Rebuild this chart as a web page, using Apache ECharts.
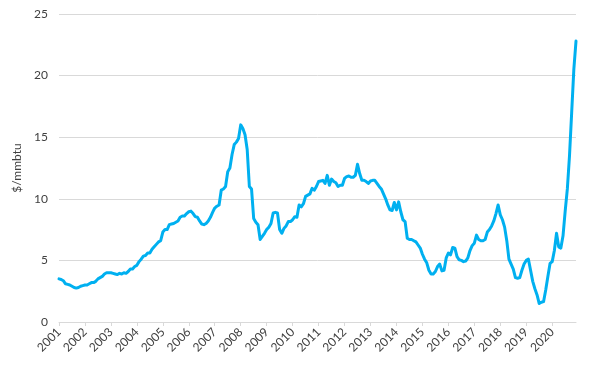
<!DOCTYPE html>
<html>
<head>
<meta charset="utf-8">
<script src="https://cdn.jsdelivr.net/npm/echarts@6/dist/echarts.min.js"></script>
<style>
html,body{margin:0;padding:0;background:#fff;}
#chart{width:602px;height:366px;}
</style>
</head>
<body>
<div id="chart"></div>
<script>
// Tick labels (years) and y-axis ticks
const years = [2001,2002,2003,2004,2005,2006,2007,2008,2009,2010,2011,2012,2013,2014,2015,2016,2017,2018,2019,2020];
const months = ['01','02','03','04','05','06','07','08','09','10','11','12'];
const yTicks = [0,5,10,15,20,25];

// Monthly prices, $/mmbtu
const p2001 = [3.5,3.45,3.35,3.1,3.05,3.0,2.9,2.8,2.75,2.8,2.9,2.95];
const p2002 = [3.0,3.0,3.1,3.2,3.2,3.3,3.5,3.6,3.7,3.9,4.0,4.0];
const p2003 = [4.0,3.95,3.9,3.85,3.95,3.9,4.0,3.95,4.1,4.3,4.3,4.5];
const p2004 = [4.6,4.9,5.1,5.35,5.4,5.6,5.6,5.9,6.1,6.3,6.5,6.6];
const p2005 = [7.3,7.5,7.5,7.9,7.95,8.0,8.1,8.2,8.5,8.6,8.6,8.8];
const p2006 = [8.95,9.0,8.8,8.55,8.5,8.2,7.95,7.9,8.0,8.2,8.5,8.9];
const p2007 = [9.25,9.4,9.5,10.7,10.8,11.0,12.2,12.5,13.6,14.4,14.6,14.9];
const p2008 = [16.0,15.7,15.2,14.0,11.0,10.8,8.4,8.1,7.9,6.7,6.95,7.2];
const p2009 = [7.5,7.7,8.0,8.85,8.9,8.85,7.5,7.2,7.6,7.8,8.15,8.15];
const p2010 = [8.3,8.55,8.5,9.5,9.35,9.6,10.2,10.3,10.4,10.85,10.7,11.0];
const p2011 = [11.4,11.45,11.5,11.25,11.9,11.1,11.6,11.4,11.3,11.0,11.1,11.1];
const p2012 = [11.65,11.8,11.85,11.75,11.75,11.9,12.8,12.05,11.5,11.5,11.4,11.25];
const p2013 = [11.45,11.5,11.5,11.25,11.0,10.8,10.4,10.0,9.5,9.1,9.05,9.7];
const p2014 = [9.1,9.75,8.95,8.3,8.15,6.8,6.7,6.7,6.6,6.5,6.25,6.0];
const p2015 = [5.5,5.1,4.8,4.2,3.9,3.9,4.1,4.5,4.7,4.15,4.2,5.2];
const p2016 = [5.6,5.45,6.05,6.0,5.3,5.05,5.0,4.9,4.95,5.2,5.8,6.2];
const p2017 = [6.4,7.05,6.7,6.6,6.6,6.7,7.3,7.5,7.8,8.2,8.8,9.5];
const p2018 = [8.7,8.3,7.7,6.6,5.1,4.7,4.3,3.6,3.55,3.6,4.2,4.7];
const p2019 = [5.0,5.1,4.2,3.3,2.7,2.2,1.5,1.6,1.65,2.6,3.7,4.75];
const p2020 = [4.9,5.8,7.2,6.1,6.0,7.0,9.0,10.8,13.5,17.0,20.5,22.8];

const yearly = [p2001,p2002,p2003,p2004,p2005,p2006,p2007,p2008,p2009,p2010,
                p2011,p2012,p2013,p2014,p2015,p2016,p2017,p2018,p2019,p2020];

const categories = [];
years.forEach(y => months.forEach(m => categories.push(y + '-' + m)));
const values = [].concat(...yearly);

const chart = echarts.init(document.getElementById('chart'));
const fontFamily = 'Lato, "Open Sans", sans-serif';
chart.setOption({
  animation: false,
  backgroundColor: '#ffffff',
  grid: {left: 59, right: 26, top: 14, bottom: 44, containLabel: false},
  xAxis: {
    type: 'category',
    data: categories,
    boundaryGap: false,
    axisLine: {lineStyle: {color: '#d9d9d9', width: 1}},
    axisTick: {show: true, length: 4, lineStyle: {color: '#d9d9d9'},
      interval: function (i) { return i % 12 === 0; }},
    axisLabel: {
      interval: function (i) { return i % 12 === 0; },
      rotate: 45,
      margin: 8,
      color: '#404040',
      fontSize: 12,
      fontFamily: fontFamily,
      formatter: function (v) { return v.slice(0, 4); }
    },
    splitLine: {show: false}
  },
  yAxis: {
    type: 'value',
    min: yTicks[0],
    max: yTicks[yTicks.length - 1],
    interval: 5,
    name: '$/mmbtu',
    nameLocation: 'middle',
    nameRotate: 90,
    nameGap: 36,
    nameTextStyle: {color: '#404040', fontSize: 12, fontFamily: fontFamily},
    axisLine: {show: false},
    axisTick: {show: false},
    axisLabel: {color: '#404040', fontSize: 12, fontFamily: fontFamily, margin: 11},
    splitLine: {lineStyle: {color: '#d9d9d9', width: 1}}
  },
  series: [{
    type: 'line',
    data: values,
    showSymbol: false,
    smooth: false,
    lineStyle: {color: '#00b0f0', width: 3, join: 'round', cap: 'round'},
    itemStyle: {color: '#00b0f0'}
  }]
});
</script>
</body>
</html>
